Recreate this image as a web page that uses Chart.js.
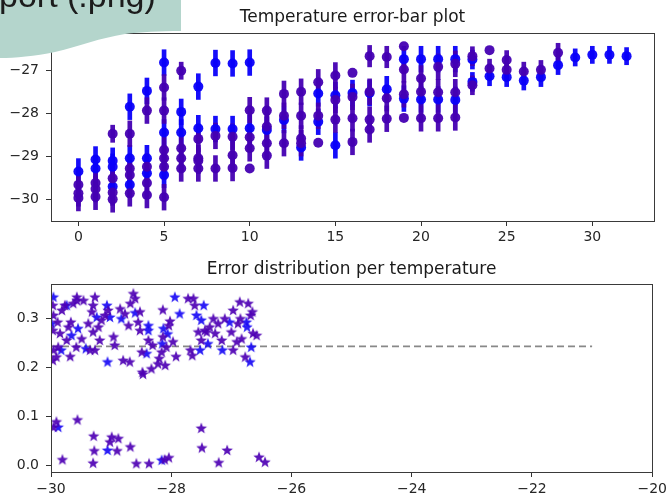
<!DOCTYPE html>
<html>
<head>
<meta charset="utf-8">
<script src="https://cdn.jsdelivr.net/npm/chart.js@4.4.1/dist/chart.umd.min.js"></script>
<style>
html, body { margin: 0; padding: 0; background: #fff; }
#wrap { position: relative; width: 671px; height: 498px; overflow: hidden; }
#top { position: absolute; left: 0; top: 0; width: 671px; height: 250px; }
#bottom { position: absolute; left: 0; top: 250px; width: 671px; height: 248px; }
#overlay { position: absolute; left: 0; top: 0; }
</style>
</head>
<body>
<div id="wrap">
  <div id="top"><canvas id="tempChart" width="671" height="250"></canvas></div>
  <div id="bottom"><canvas id="errChart" width="671" height="248"></canvas></div>
  <svg id="overlay" width="190" height="62">
    <path d="M0,0 H181 V31 C160,31 140,32 125,34 C100,38 80,46 55,52 C35,56 15,58 0,58 Z" fill="#b4d5cc"/>
    <text x="-1" y="7" font-family="Liberation Sans, Arial, sans-serif" font-size="34" fill="#1c1c1c">port (.png)</text>
  </svg>
</div>
<script>
// top plot: [x, temperature, error]
let tempBlue = [
    [0, -29.35, 0.3],
    [1, -29.07, 0.3], [1, -29.28, 0.3],
    [2, -29.10, 0.3], [2, -29.24, 0.3], [2, -29.70, 0.3],
    [3, -27.84, 0.3], [3, -29.04, 0.3], [3, -29.66, 0.3],
    [4, -27.47, 0.3], [4, -29.04, 0.3], [4, -29.39, 0.3],
    [5, -26.81, 0.3], [5, -28.44, 0.3], [5, -29.43, 0.3],
    [6, -27.96, 0.3], [6, -28.44, 0.3],
    [7, -27.37, 0.3], [7, -28.34, 0.3],
    [8, -26.82, 0.3], [8, -28.36, 0.3],
    [9, -26.83, 0.3], [9, -28.36, 0.3],
    [10, -26.81, 0.3], [10, -28.34, 0.3],
    [11, -28.38, 0.3],
    [12, -28.15, 0.3],
    [13, -28.79, 0.3],
    [14, -27.53, 0.3], [14, -28.19, 0.3],
    [15, -27.57, 0.3], [15, -28.74, 0.3],
    [16, -27.52, 0.3],
    [17, -27.52, 0.3],
    [18, -27.43, 0.3],
    [19, -26.73, 0.3], [19, -27.65, 0.3],
    [20, -26.73, 0.3], [20, -27.67, 0.3],
    [21, -26.73, 0.3], [21, -27.67, 0.3],
    [22, -26.73, 0.3], [22, -27.68, 0.3],
    [23, -26.74, 0.22], [23, -27.26, 0.22],
    [24, -27.13, 0.22],
    [25, -27.15, 0.22],
    [26, -27.23, 0.22],
    [27, -27.15, 0.22],
    [28, -26.87, 0.22],
    [29, -26.69, 0.2],
    [30, -26.63, 0.2],
    [31, -26.63, 0.2],
    [32, -26.66, 0.2]
];
let tempPurple = [
    [0, -29.66, 0.3], [0, -29.86, 0.3], [0, -29.97, 0.3],
    [1, -29.62, 0.3], [1, -29.76, 0.3], [1, -29.94, 0.3],
    [2, -28.47, 0.2], [2, -29.51, 0.3], [2, -29.84, 0.3], [2, -30.0, 0.3],
    [3, -28.47, 0.3], [3, -29.28, 0.3], [3, -29.43, 0.3], [3, -29.86, 0.3],
    [4, -27.93, 0.3], [4, -29.24, 0.3], [4, -29.62, 0.3], [4, -29.90, 0.3],
    [5, -27.39, 0.3], [5, -27.93, 0.3], [5, -28.85, 0.3], [5, -29.04, 0.3], [5, -29.24, 0.3], [5, -29.95, 0.3],
    [6, -27.00, 0.2], [6, -28.81, 0.3], [6, -29.04, 0.3], [6, -29.28, 0.3],
    [7, -28.59, 0.3], [7, -29.04, 0.3], [7, -29.10, 0.3], [7, -29.28, 0.3],
    [8, -28.52, 0.3], [8, -29.28, 0.3],
    [9, -28.54, 0.3], [9, -28.97, 0.3], [9, -29.27, 0.3],
    [10, -27.92, 0.3], [10, -28.55, 0.3], [10, -28.81, 0.3], [10, -29.28, 0],
    [11, -27.93, 0.3], [11, -28.30, 0.3], [11, -28.69, 0.3], [11, -28.98, 0.3],
    [12, -27.54, 0.3], [12, -28.05, 0.3], [12, -28.69, 0.3],
    [13, -27.49, 0.3], [13, -28.05, 0.3], [13, -28.58, 0.3], [13, -28.69, 0.3],
    [14, -27.27, 0.3], [14, -28.05, 0.3], [14, -28.68, 0],
    [15, -27.11, 0.3], [15, -27.68, 0.3], [15, -28.14, 0.3],
    [16, -27.05, 0], [16, -27.61, 0.3], [16, -28.11, 0.3], [16, -28.66, 0.3],
    [17, -26.66, 0.25], [17, -27.49, 0.3], [17, -28.14, 0.3], [17, -28.37, 0.3],
    [18, -26.68, 0.25], [18, -27.64, 0.3], [18, -28.12, 0.3],
    [19, -26.43, 0], [19, -26.97, 0.3], [19, -27.55, 0.3], [19, -28.10, 0],
    [20, -27.18, 0.3], [20, -27.49, 0.3], [20, -28.11, 0.3],
    [21, -26.91, 0.3], [21, -27.50, 0.3], [21, -28.11, 0.3],
    [22, -26.84, 0.3], [22, -27.50, 0.3], [22, -28.09, 0.3],
    [23, -26.66, 0.22], [23, -27.34, 0.22],
    [24, -26.52, 0], [24, -26.95, 0.22],
    [25, -26.75, 0.22], [25, -26.98, 0.22],
    [26, -27.02, 0.22],
    [27, -26.98, 0.22],
    [28, -26.58, 0.22]
];
let tempXTicks = [0, 5, 10, 15, 20, 25, 30];
let tempYTicks = [-30, -29, -28, -27];

// bottom plot: [temperature, error]
let starsBlue = [
    [-29.96, 0.344], [-29.99, 0.290], [-29.88, 0.079], [-29.83, 0.236], [-29.66, 0.266],
    [-29.74, 0.327], [-29.42, 0.239], [-29.24, 0.303], [-29.07, 0.327], [-29.06, 0.212],
    [-29.02, 0.303], [-28.83, 0.300], [-28.60, 0.312], [-28.38, 0.286], [-28.38, 0.276],
    [-28.41, 0.229], [-28.15, 0.249], [-28.13, 0.280], [-27.94, 0.344], [-27.86, 0.310],
    [-27.58, 0.307], [-27.46, 0.327], [-27.50, 0.297], [-27.52, 0.236], [-27.39, 0.249],
    [-27.15, 0.236], [-27.03, 0.293], [-26.75, 0.293], [-26.74, 0.283], [-26.67, 0.242],
    [-26.69, 0.212], [-28.16, 0.012], [-29.06, 0.032], [-29.55, 0.280], [-28.06, 0.269]
];
let starsPurple = [
    [-29.96, 0.079], [-29.91, 0.090], [-29.81, 0.013], [-29.56, 0.094], [-29.29, 0.061],
    [-29.28, 0.031], [-29.30, 0.006], [-29.02, 0.049], [-28.99, 0.059], [-28.88, 0.056],
    [-28.90, 0.031], [-28.68, 0.039], [-28.58, 0.005], [-28.37, 0.005], [-28.11, 0.013],
    [-28.04, 0.017], [-27.50, 0.077], [-27.49, 0.037], [-27.21, 0.007], [-27.07, 0.032],
    [-26.54, 0.018], [-26.44, 0.008],
    [-29.97, 0.327], [-29.96, 0.307], [-29.97, 0.276], [-29.96, 0.236], [-29.97, 0.215],
    [-29.91, 0.222], [-29.88, 0.242], [-29.85, 0.270], [-29.82, 0.317], [-29.89, 0.293],
    [-29.77, 0.327], [-29.71, 0.283], [-29.74, 0.256], [-29.68, 0.223], [-29.67, 0.293],
    [-29.63, 0.331], [-29.57, 0.337], [-29.57, 0.344], [-29.58, 0.242], [-29.49, 0.259],
    [-29.46, 0.337], [-29.38, 0.290], [-29.35, 0.236], [-29.32, 0.314], [-29.30, 0.327],
    [-29.27, 0.344], [-29.30, 0.273], [-29.27, 0.236], [-29.21, 0.283], [-29.19, 0.256],
    [-29.16, 0.297], [-29.10, 0.307], [-29.05, 0.317], [-28.96, 0.263], [-28.94, 0.246],
    [-28.85, 0.320], [-28.80, 0.215], [-28.77, 0.310], [-28.71, 0.286], [-28.69, 0.212],
    [-28.68, 0.331], [-28.63, 0.351], [-28.60, 0.341], [-28.55, 0.293], [-28.52, 0.276],
    [-28.49, 0.232], [-28.52, 0.314], [-28.48, 0.191], [-28.47, 0.187], [-28.38, 0.256],
    [-28.33, 0.198], [-28.31, 0.246], [-28.22, 0.208], [-28.20, 0.219], [-28.16, 0.232],
    [-28.14, 0.263], [-28.14, 0.318], [-28.10, 0.205], [-28.08, 0.242], [-28.04, 0.286],
    [-28.02, 0.295], [-27.97, 0.253], [-27.92, 0.223], [-27.72, 0.341], [-27.63, 0.341],
    [-27.68, 0.236], [-27.65, 0.225], [-27.61, 0.327], [-27.55, 0.273], [-27.50, 0.256],
    [-27.44, 0.276], [-27.41, 0.273], [-27.36, 0.283], [-27.30, 0.300], [-27.27, 0.270],
    [-27.22, 0.290], [-27.16, 0.256], [-27.11, 0.300], [-27.00, 0.273], [-26.97, 0.317],
    [-26.97, 0.236], [-26.91, 0.253], [-26.89, 0.290], [-26.86, 0.334], [-26.85, 0.300],
    [-26.83, 0.259], [-26.77, 0.222], [-26.72, 0.331], [-26.68, 0.307], [-26.65, 0.314],
    [-26.64, 0.270], [-26.58, 0.266]
];
let meanError = 0.243;
let meanLineX = [-30, -21];
let errXTicks = [-30, -28, -26, -24, -22, -20];
let errYTicks = [0, 0.1, 0.2, 0.3];

const BLUE = 'rgba(10, 0, 250, 0.95)';
const PURPLE = 'rgba(68, 0, 178, 0.95)';
const STAR_BLUE = 'rgba(25, 10, 245, 0.92)';
const STAR_PURPLE = 'rgba(78, 0, 180, 0.92)';
const FONT = 'DejaVu Sans';

let minus = (v, dec) => {
    let s = Math.abs(v).toFixed(dec);
    return v < 0 ? '\u2212' + s : s;
};

let toPoints = arr => arr.map(p => ({x: p[0], y: p[1]}));
let toBars = arr => arr.filter(p => p[2] > 0).map(p => ({x: p[0], y: [p[1] - p[2], p[1] + p[2]]}));

let starImage = (color, r) => {
    let c = document.createElement('canvas');
    let s = Math.ceil(r * 2 + 2);
    c.width = s;
    c.height = s;
    let g = c.getContext('2d');
    g.fillStyle = color;
    g.beginPath();
    for (let i = 0; i < 10; i++) {
        let a = -Math.PI / 2 + i * Math.PI / 5;
        let rr = i % 2 ? r * 0.42 : r;
        g.lineTo(s / 2 + rr * Math.cos(a), s / 2 + 0.6 + rr * Math.sin(a));
    }
    g.closePath();
    g.fill();
    return c;
};

// box round the plot area, like matplotlib spines
let framePlugin = {
    id: 'frame',
    afterDraw(chart) {
        let {ctx, chartArea: a} = chart;
        ctx.save();
        ctx.strokeStyle = '#3a3a3a';
        ctx.lineWidth = 1;
        ctx.strokeRect(Math.round(a.left) + 0.5, Math.round(a.top) + 0.5,
            Math.round(a.right - a.left), Math.round(a.bottom - a.top));
        ctx.restore();
    }
};

let axis = (min, max, ticks, fmt, pad, size, isY) => ({
    type: 'linear',
    min: min,
    max: max,
    offset: false,
    border: {display: false},
    grid: {drawOnChartArea: false, drawTicks: true, tickLength: 5, tickColor: '#333', offset: false},
    ticks: {
        font: {family: FONT, size: 14},
        color: '#262626',
        padding: pad,
        maxRotation: 0,
        autoSkip: false,
        callback: fmt
    },
    afterBuildTicks: s => { s.ticks = ticks.map(v => ({value: v})); },
    afterFit: s => { if (isY) s.width = size; else s.height = size; }
});

let title = (text, top, bottom) => ({
    display: true,
    text: text,
    fullSize: false,
    color: '#1a1a1a',
    font: {family: FONT, size: 17, weight: 'normal'},
    padding: {top: top, bottom: bottom}
});

let tempChart = new Chart('tempChart', {
    type: 'scatter',
    data: {
        datasets: [
            {type: 'bar', data: toBars(tempBlue), backgroundColor: BLUE, barThickness: 4, grouped: false, borderWidth: 0, order: 4},
            {type: 'bar', data: toBars(tempPurple), backgroundColor: PURPLE, barThickness: 4, grouped: false, borderWidth: 0, order: 3},
            {data: toPoints(tempBlue), pointRadius: 5, pointBackgroundColor: BLUE, pointBorderWidth: 0, order: 2},
            {data: toPoints(tempPurple), pointRadius: 5, pointBackgroundColor: PURPLE, pointBorderWidth: 0, order: 1}
        ]
    },
    options: {
        responsive: false,
        animation: false,
        events: [],
        layout: {padding: {left: 0, right: 17, top: 0, bottom: 0}},
        plugins: {
            legend: {display: false},
            tooltip: {enabled: false},
            title: title('Temperature error-bar plot', 7.7, 4.9)
        },
        scales: {
            x: axis(-1.6, 33.6, tempXTicks, v => minus(v, 0), 3, 29, false),
            y: axis(-30.505, -26.12, tempYTicks, v => minus(v, 0), 7, 51, true)
        }
    },
    plugins: [framePlugin]
});

let errChart = new Chart('errChart', {
    type: 'scatter',
    data: {
        datasets: [
            {type: 'line', data: meanLineX.map(x => ({x: x, y: meanError})), borderColor: '#888888', borderWidth: 1.8,
                borderDash: [7, 4], pointRadius: 0, fill: false, order: 3},
            {data: toPoints(starsBlue), pointStyle: starImage(STAR_BLUE, 6), order: 2},
            {data: toPoints(starsPurple), pointStyle: starImage(STAR_PURPLE, 6), order: 1}
        ]
    },
    options: {
        responsive: false,
        animation: false,
        events: [],
        layout: {padding: {left: 0, right: 18, top: 0, bottom: 0}},
        plugins: {
            legend: {display: false},
            tooltip: {enabled: false},
            title: title('Error distribution per temperature', 9.5, 4.1)
        },
        scales: {
            x: axis(-30, -20, errXTicks, v => minus(v, 0), 4, 26, false),
            y: axis(-0.0128, 0.37, errYTicks, v => minus(v, 1), 7, 51, true)
        }
    },
    plugins: [framePlugin]
});
</script>
</body>
</html>
